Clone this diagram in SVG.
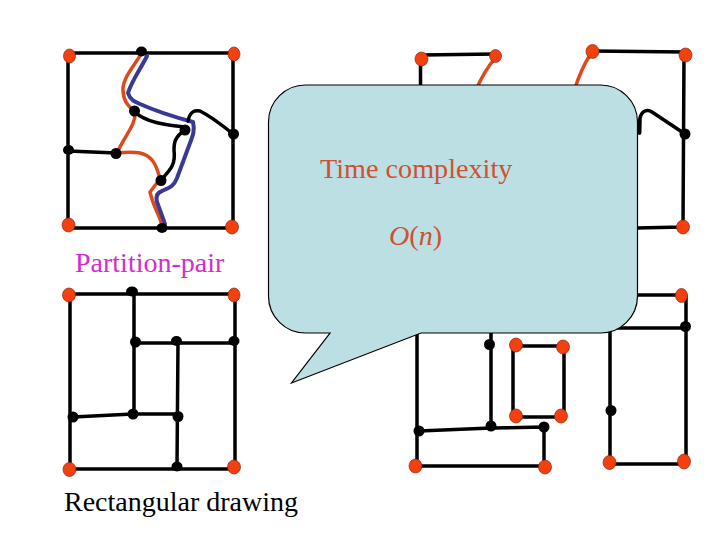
<svg xmlns="http://www.w3.org/2000/svg" width="720" height="540" viewBox="0 0 720 540">
<style>
.k{fill:none;stroke:#000;stroke-width:3.500;stroke-linecap:round;stroke-linejoin:round}
.o{fill:none;stroke:#dc4a1c;stroke-width:3.500;stroke-linecap:round;stroke-linejoin:round}
.b{fill:none;stroke:#3a3a94;stroke-width:4;stroke-linecap:round;stroke-linejoin:round}
.r{fill:#f4400f;stroke:#8a2a10;stroke-width:.7}
.d{fill:#000}
text{font-family:"Liberation Serif","Times New Roman",serif}
.c{fill:#d0502f;font-size:28.200px}
</style>
<rect width="720" height="540" fill="#fff"/>
<g id="connectors">
<path class="k" d="M69 53H234M68 56V225M233 54V227M69 228H232M68 151L116 153"/>
<path class="o" d="M141 54C135 65 122 78 123 91C124 104 130 107 135 112C136 125 125 135 117 153C135 151 145 152 152 160C157 166 158 172 160 179L150 192C153 205 158 213 161 222"/>
<path class="b" d="M147 56C140 70 132 80 128 93C130 100 135 102 140 104C160 113 178 118 193 122C195 130 193 135 190 143L177 178C173 188 168 188 162 191C156 193 156 198 157 202L165 224"/>
<path class="k" d="M135 112C145 122 165 125 185 127M185 130C175 137 174 142 174 150C176 165 170 170 161 180M188 121C190 111 195 110 200 111C210 116 222 125 233 134"/>
<path class="k" d="M69 294H234M70 295V469M235 295V467M69 469H234M134 292V414M135 343H234M178 342L177 466M73 417L133 414H178"/>
<path class="k" d="M421 55L495 54M420.500 59V90M592 51L685 52M684 55L683 227M639.500 133L640 118C642 110 648 109 652 112L685 134M636 228L683 227"/>
<path class="o" d="M495 58C487 68 482 76 477 88M590 55C583 66 579 76 575 88"/>
<path class="k" d="M636 295H681M686 296V461M617 328H685M610 328V462M610 464H684M417 330V466M415 466H545M419 431L491 428L544 427V467M491 330V426M513 346H564V417H513V346"/>
</g>
<g id="callout">
<path d="M306 85H600A37 37 0 0 1 637.500 122V296A37 37 0 0 1 600 333H421L291.500 383L330 333H306A37 37 0 0 1 268.500 296V122A37 37 0 0 1 306 85Z" fill="#bbdfe3" stroke="#000" stroke-width="1.200"/>
<text class="c" x="320" y="178">Time complexity</text>
<text class="c" x="389" y="245"><tspan font-style="italic">O</tspan>(<tspan font-style="italic">n</tspan>)</text>
</g>
<path class="k" d="M639.500 133V120"/>
<g id="nodes">
<g id="a1"><ellipse class="r" cx="69.500" cy="56" rx="6" ry="7"/><ellipse class="r" cx="234" cy="54" rx="6" ry="7"/><ellipse class="r" cx="68.500" cy="225" rx="6.500" ry="7"/><ellipse class="r" cx="232" cy="227" rx="6.500" ry="7"/></g>
<g id="a2"><ellipse class="d" cx="141.500" cy="51.500" rx="5.500" ry="5"/><ellipse class="d" cx="134.500" cy="111" rx="5.500" ry="5.500"/><ellipse class="d" cx="185" cy="130" rx="5.500" ry="5.500"/><ellipse class="d" cx="233.500" cy="134" rx="5.500" ry="5.500"/><ellipse class="d" cx="68.500" cy="150" rx="5.500" ry="5"/><ellipse class="d" cx="116" cy="153.500" rx="5.500" ry="5.500"/><ellipse class="d" cx="161" cy="180.500" rx="5.500" ry="5.500"/><ellipse class="d" cx="162" cy="228" rx="5.500" ry="5"/></g>
<g id="b1"><ellipse class="r" cx="69" cy="295" rx="6.500" ry="7"/><ellipse class="r" cx="234" cy="295" rx="6" ry="7"/><ellipse class="r" cx="69.500" cy="469.500" rx="6.500" ry="7"/><ellipse class="r" cx="234" cy="467" rx="6.500" ry="7"/></g>
<g id="b2"><ellipse class="d" cx="132" cy="291.500" rx="6" ry="5"/><ellipse class="d" cx="135.500" cy="342" rx="5.500" ry="5.500"/><ellipse class="d" cx="176.500" cy="341" rx="5.500" ry="5"/><ellipse class="d" cx="234" cy="341" rx="5.500" ry="5"/><ellipse class="d" cx="73" cy="417" rx="5.500" ry="5.500"/><ellipse class="d" cx="133" cy="414" rx="5.500" ry="5.500"/><ellipse class="d" cx="178" cy="416.500" rx="5.500" ry="5.500"/><ellipse class="d" cx="177" cy="466.500" rx="5.500" ry="5"/></g>
<g id="c1"><ellipse class="r" cx="421.500" cy="59" rx="6.500" ry="7"/><ellipse class="r" cx="495.500" cy="56" rx="6" ry="6.500"/><ellipse class="r" cx="592.500" cy="51.500" rx="6.500" ry="7"/><ellipse class="r" cx="685.500" cy="55" rx="6.500" ry="7"/><ellipse class="r" cx="683" cy="227" rx="6.500" ry="7"/><ellipse class="d" cx="685" cy="134" rx="5.500" ry="5.500"/></g>
<g id="c2"><ellipse class="r" cx="681.500" cy="295.500" rx="6" ry="7"/><ellipse class="d" cx="685.500" cy="326.500" rx="5.500" ry="5.500"/><ellipse class="r" cx="684" cy="461.500" rx="6.500" ry="7.500"/><ellipse class="r" cx="609.500" cy="462.500" rx="6.500" ry="7"/><ellipse class="d" cx="611" cy="410.500" rx="5.500" ry="5.500"/></g>
<g id="c3"><ellipse class="r" cx="516" cy="345" rx="6.500" ry="7"/><ellipse class="r" cx="563" cy="347" rx="6.500" ry="7"/><ellipse class="r" cx="516" cy="416" rx="6.500" ry="7"/><ellipse class="r" cx="561" cy="416" rx="6.500" ry="7"/><ellipse class="d" cx="489.500" cy="344.500" rx="5.500" ry="5.500"/><ellipse class="d" cx="491" cy="426" rx="5.500" ry="5.500"/><ellipse class="d" cx="419" cy="431" rx="5.500" ry="5.500"/><ellipse class="d" cx="544" cy="427" rx="5.500" ry="5.500"/><ellipse class="r" cx="415.500" cy="466" rx="6.500" ry="7"/><ellipse class="r" cx="545" cy="467" rx="6.500" ry="7"/></g>
</g>
<text x="75" y="272" font-size="28" fill="#d42bd0">Partition-pair</text>
<text x="64" y="511" font-size="28" fill="#000">Rectangular drawing</text>
</svg>
